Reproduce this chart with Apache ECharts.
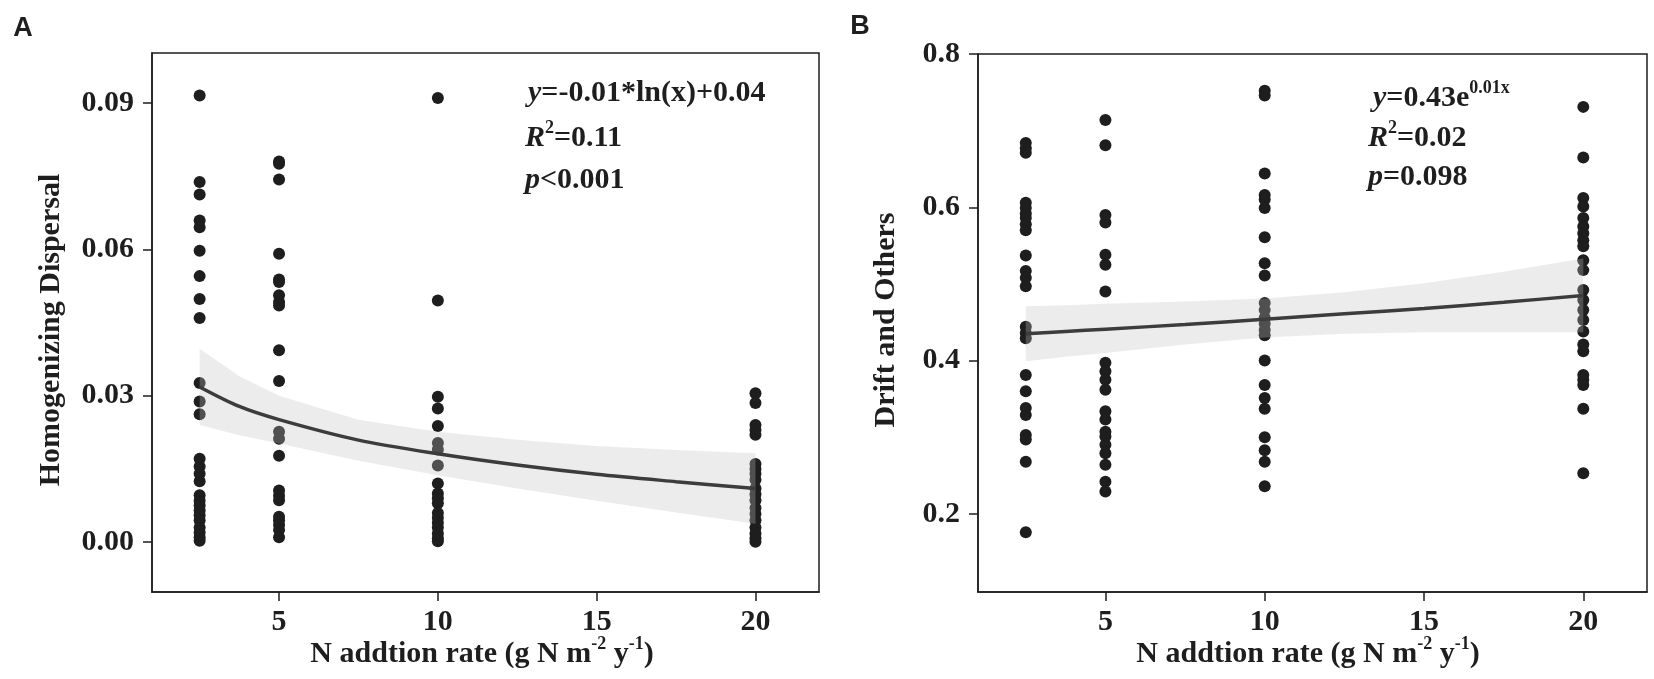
<!DOCTYPE html>
<html>
<head>
<meta charset="utf-8">
<script src="https://cdn.jsdelivr.net/npm/echarts@6/dist/echarts.min.js"></script>
<style>
  html, body { margin: 0; padding: 0; background: #fff; }
  #chart { width: 1654px; height: 679px; }
</style>
</head>
<body>
<div id="chart"></div>
<script>
// tick values
const xTicks = [5, 10, 15, 20];
const yTicksA = [0, 0.03, 0.06, 0.09];
const yTicksB = [0.2, 0.4, 0.6, 0.8];

// panel A - homogenizing dispersal, one list per N rate
const homA_25 = [0.0915, 0.0738, 0.0712, 0.0659, 0.0645, 0.0597, 0.0545, 0.0498, 0.0459, 0.0326, 0.0288, 0.0262, 0.0171, 0.0155, 0.0140, 0.0125, 0.0096, 0.0085, 0.0075, 0.0065, 0.0055, 0.0045, 0.0030, 0.0020, 0.0010, 0.0003];
const homA_5 = [0.0780, 0.0775, 0.0743, 0.0591, 0.0538, 0.0533, 0.0506, 0.0492, 0.0485, 0.0393, 0.0330, 0.0226, 0.0212, 0.0177, 0.0106, 0.0095, 0.0086, 0.0052, 0.0045, 0.0035, 0.0025, 0.0010];
const homA_10 = [0.0910, 0.0495, 0.0298, 0.0274, 0.0238, 0.0203, 0.0190, 0.0157, 0.0120, 0.0100, 0.0090, 0.0080, 0.0060, 0.0050, 0.0040, 0.0030, 0.0018, 0.0008, 0.0002];
const homA_20 = [0.0305, 0.0285, 0.0240, 0.0230, 0.0220, 0.0160, 0.0150, 0.0140, 0.0128, 0.0110, 0.0098, 0.0086, 0.0070, 0.0058, 0.0045, 0.0030, 0.0018, 0.0008, 0.0001];

// panel B - drift and others
const driftB_25 = [0.684, 0.677, 0.671, 0.606, 0.599, 0.592, 0.586, 0.578, 0.570, 0.537, 0.517, 0.508, 0.497, 0.444, 0.436, 0.429, 0.381, 0.360, 0.338, 0.329, 0.303, 0.297, 0.268, 0.176];
const driftB_5 = [0.714, 0.681, 0.590, 0.580, 0.538, 0.525, 0.490, 0.397, 0.386, 0.375, 0.362, 0.334, 0.323, 0.307, 0.301, 0.290, 0.279, 0.264, 0.242, 0.229];
const driftB_10 = [0.752, 0.746, 0.644, 0.616, 0.610, 0.599, 0.561, 0.527, 0.511, 0.475, 0.466, 0.456, 0.448, 0.440, 0.433, 0.400, 0.368, 0.351, 0.337, 0.300, 0.283, 0.268, 0.236];
const driftB_20 = [0.731, 0.665, 0.612, 0.601, 0.586, 0.575, 0.566, 0.557, 0.549, 0.531, 0.518, 0.492, 0.479, 0.466, 0.453, 0.438, 0.421, 0.412, 0.381, 0.375, 0.368, 0.337, 0.253];

// fitted curves and confidence bands
const fitX = [2.5, 3.75, 5, 7.5, 10, 12.5, 15, 17.5, 20];
const fitA = [0.0318, 0.0278, 0.0251, 0.0209, 0.0181, 0.0158, 0.0139, 0.0124, 0.0110];
const fitLoA = [0.0240, 0.0219, 0.0202, 0.0167, 0.0137, 0.0110, 0.0085, 0.0061, 0.0038];
const fitHiA = [0.0396, 0.0340, 0.0300, 0.0251, 0.0226, 0.0210, 0.0197, 0.0189, 0.0182];
const fitB = [0.435, 0.438, 0.441, 0.447, 0.454, 0.461, 0.468, 0.476, 0.485];
const fitLoB = [0.399, 0.405, 0.410, 0.421, 0.430, 0.435, 0.437, 0.437, 0.437];
const fitHiB = [0.471, 0.472, 0.474, 0.477, 0.481, 0.489, 0.501, 0.516, 0.533];

const SERIF = '"Liberation Serif", "Times New Roman", serif';
const INK = '#1e1e1e';
const FS = 30;

function pts(x, arr) {
    return arr.map(v => [x, v]);
}

function xAxisFor(gi) {
    return {
        type: 'value', gridIndex: gi, min: 1, max: 22,
        axisLine: { show: true, onZero: false, lineStyle: { color: INK, width: 1.5 } },
        axisTick: { show: true, length: 9, customValues: xTicks, lineStyle: { color: INK, width: 1.5 } },
        axisLabel: { customValues: xTicks, margin: 15, color: INK, fontFamily: SERIF, fontWeight: 'bold', fontSize: FS },
        splitLine: { show: false }
    };
}

function yAxisFor(gi, min, max, ticks, digits) {
    return {
        type: 'value', gridIndex: gi, min: min, max: max,
        axisLine: { show: true, onZero: false, lineStyle: { color: INK, width: 1.5 } },
        axisTick: { show: true, length: 9, customValues: ticks, lineStyle: { color: INK, width: 1.5 } },
        axisLabel: {
            customValues: ticks, margin: 18, color: INK, fontFamily: SERIF, fontWeight: 'bold', fontSize: FS,
            formatter: v => v.toFixed(digits)
        },
        splitLine: { show: false }
    };
}

// grey confidence ribbon, drawn over the points like ggplot does
function bandSeries(gi, lo, hi) {
    return {
        type: 'custom', xAxisIndex: gi, yAxisIndex: gi, z: 3, silent: true,
        data: [[fitX[0], lo[0]]],
        renderItem: (params, api) => {
            const top = fitX.map((x, i) => api.coord([x, hi[i]]));
            const bot = fitX.map((x, i) => api.coord([x, lo[i]])).reverse();
            return {
                type: 'polygon',
                shape: { points: top.concat(bot) },
                style: { fill: 'rgba(193,193,193,0.31)', stroke: null }
            };
        }
    };
}

function fitSeries(gi, ys) {
    return {
        type: 'line', xAxisIndex: gi, yAxisIndex: gi, symbol: 'none', smooth: 0.3, z: 4, silent: true,
        data: fitX.map((x, i) => [x, ys[i]]),
        lineStyle: { color: '#3c3c3c', width: 3.5 }
    };
}

function scatterSeries(gi, data) {
    return {
        type: 'scatter', xAxisIndex: gi, yAxisIndex: gi, symbolSize: 12, z: 2,
        itemStyle: { color: INK, opacity: 1 }, data: data
    };
}

const richBase = {
    i: { fontStyle: 'italic', fontWeight: 'bold', fontFamily: SERIF, fontSize: FS, fill: INK },
    sup: { fontWeight: 'bold', fontFamily: SERIF, fontSize: 18, padding: [0, 0, 20, 0], fill: INK },
    n: { fontWeight: 'bold', fontFamily: SERIF, fontSize: FS, fill: INK }
};

function txt(x, y, text, opts) {
    return {
        type: 'text', x: x, y: y, rotation: (opts && opts.rot) || 0, z: 10,
        style: Object.assign({
            text: text, rich: richBase, fill: INK,
            font: 'bold ' + FS + 'px ' + SERIF,
            align: 'left', verticalAlign: 'middle'
        }, (opts && opts.style) || {})
    };
}

const chart = echarts.init(document.getElementById('chart'));

chart.setOption({
    backgroundColor: '#fff',
    animation: false,
    grid: [
        { left: 152, top: 53, width: 667, height: 539, show: true, borderColor: INK, borderWidth: 1.5, backgroundColor: 'transparent' },
        { left: 978, top: 54, width: 669, height: 538, show: true, borderColor: INK, borderWidth: 1.5, backgroundColor: 'transparent' }
    ],
    xAxis: [xAxisFor(0), xAxisFor(1)],
    yAxis: [
        yAxisFor(0, -0.0102, 0.1002, yTicksA, 2),
        yAxisFor(1, 0.098, 0.8, yTicksB, 1)
    ],
    series: [
        scatterSeries(0, [].concat(pts(2.5, homA_25), pts(5, homA_5), pts(10, homA_10), pts(20, homA_20))),
        bandSeries(0, fitLoA, fitHiA),
        fitSeries(0, fitA),
        scatterSeries(1, [].concat(pts(2.5, driftB_25), pts(5, driftB_5), pts(10, driftB_10), pts(20, driftB_20))),
        bandSeries(1, fitLoB, fitHiB),
        fitSeries(1, fitB)
    ],
    graphic: [
        // panel letters
        txt(23, 29, 'A', { style: { font: 'bold 27px "Liberation Sans", Arial, sans-serif', align: 'center' } }),
        txt(860, 27, 'B', { style: { font: 'bold 27px "Liberation Sans", Arial, sans-serif', align: 'center' } }),
        // axis titles
        txt(51, 330, 'Homogenizing Dispersal', { rot: Math.PI / 2, style: { align: 'center' } }),
        txt(886, 320, 'Drift and Others', { rot: Math.PI / 2, style: { align: 'center' } }),
        txt(482, 654, '{n|N addtion rate (g N m}{sup|-2}{n| y}{sup|-1}{n|)}', { style: { align: 'center' } }),
        txt(1308, 654, '{n|N addtion rate (g N m}{sup|-2}{n| y}{sup|-1}{n|)}', { style: { align: 'center' } }),
        // fit statistics, panel A
        txt(528, 93, '{i|y}{n|=-0.01*ln(x)+0.04}'),
        txt(525, 138, '{i|R}{sup|2}{n|=0.11}'),
        txt(525, 180, '{i|p}{n|<0.001}'),
        // fit statistics, panel B
        txt(1373, 98, '{i|y}{n|=0.43e}{sup|0.01x}'),
        txt(1368, 138, '{i|R}{sup|2}{n|=0.02}'),
        txt(1368, 177, '{i|p}{n|=0.098}')
    ]
});
</script>
</body>
</html>
